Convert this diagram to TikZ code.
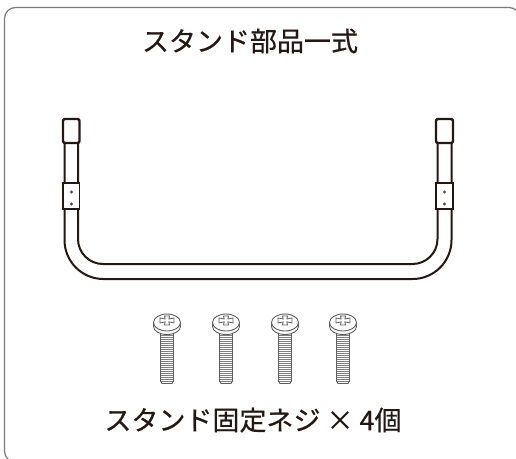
\documentclass[tikz,border=0pt]{standalone}
\usepackage{fontspec}
\newfontfamily\jp[FakeBold=0.5]{Noto Sans CJK JP}
\definecolor{ink}{HTML}{231815}
\definecolor{framegray}{HTML}{7A7A7A}
\definecolor{screwgray}{HTML}{5E5E5E}
\definecolor{threadgray}{HTML}{808080}
\tikzset{
  frameline/.style={draw=framegray, line width=1.2pt},
  tube/.style={draw=ink, line width=2pt},
  capbox/.style={draw=ink, line width=2.4pt, fill=white, rounded corners=2pt},
  bracket/.style={draw=ink, line width=1.8pt, fill=white},
  hole/.style={fill=ink!80},
  screwline/.style={draw=screwgray, line width=0.9pt},
  thread/.style={draw=threadgray, line width=1pt},
  label/.style={text=ink, font=\jp\fontsize{27}{30}\selectfont, inner sep=0pt},
  screw/.pic={
    % threaded shank
    \fill[white] (-6.5,19) rectangle (6.5,69);
    \foreach \yy in {21,23,...,67} \draw[thread] (-7,\yy) -- (7,\yy);
    \draw[screwline] (-6.5,19) -- (-6.5,67) -- (-5,69.5) -- (5,69.5) -- (6.5,67) -- (6.5,19);
    % side of the pan head
    \draw[screwline, fill=white] (-13.5,8.5) -- (-13.5,12.5)
      arc[start angle=180, end angle=0, x radius=13.5, y radius=8] -- (13.5,8.5);
    % top face
    \draw[screwline, fill=white] (0,8.5) ellipse[x radius=13.5, y radius=8.5];
    % cross recess
    \draw[screwline, line width=0.8pt, line join=round]
      (-2.5,2) -- (2.5,2) -- (1.8,5) -- (7,4) -- (7,9) -- (1.8,7.8)
      -- (2.5,11) -- (-2.5,11) -- (-1.8,7.8) -- (-7,9) -- (-7,4) -- (-1.8,5) -- cycle;
  }
}
\begin{document}
\begin{tikzpicture}[x=1pt, y=-1pt]
  \useasboundingbox (0,0) rectangle (516,458);
  \clip (0,0) rectangle (516,458);
  \fill[white] (0,0) rectangle (516,458);

  % outer frame (only its top and left sides fall on the page)
  \draw[frameline, rounded corners=11pt]
    (30,462) -- (4.5,462) -- (4.5,7.5) -- (520,7.5) -- (520,40);

  % titles
  \node[label] (title) at (250,41) {スタンド部品一式};
  \node[label] (caption) at (253,420) {スタンド固定ネジ × 4個};

  % U-shaped stand tube
  \draw[tube, rounded corners=39pt] (64.5,143) -- (64.5,279) -- (451.5,279) -- (451.5,143);
  \draw[tube, rounded corners=25pt] (78,143) -- (78,264) -- (437.5,264) -- (437.5,143);

  % end caps
  \draw[capbox] (63,119) rectangle (79.5,143);
  \draw[capbox] (436,119) rectangle (453,143);

  % brackets with screw holes
  \draw[bracket] (63,183) rectangle (79.5,209);
  \draw[bracket] (436,183) rectangle (453,209);
  \fill[hole] (71.5,192) circle (1.6);
  \fill[hole] (71.5,204) circle (1.6);
  \fill[hole] (444.5,192) circle (1.6);
  \fill[hole] (444.5,204) circle (1.6);

  % fixing screws
  \pic (s1) at (167,314) {screw};
  \pic (s2) at (226,314) {screw};
  \pic (s3) at (285,314) {screw};
  \pic (s4) at (343,314) {screw};
\end{tikzpicture}
\end{document}
